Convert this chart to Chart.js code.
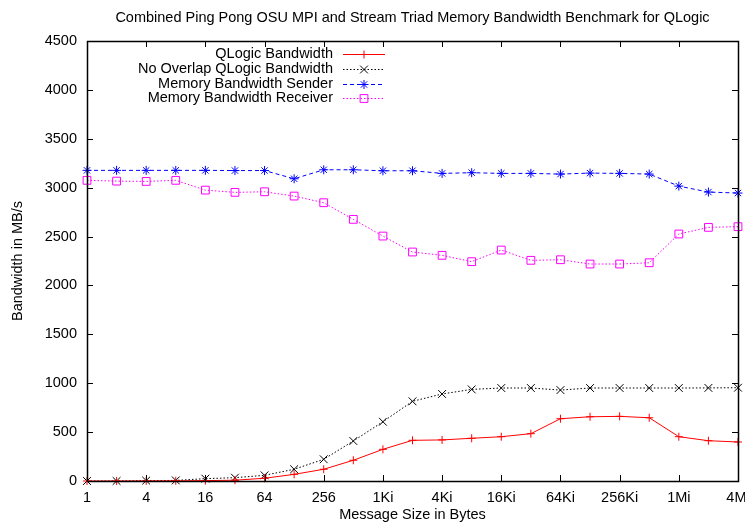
<!DOCTYPE html>
<html>
<head>
<meta charset="utf-8">
<script src="https://cdn.jsdelivr.net/npm/chart.js@4/dist/chart.umd.min.js"></script>
<style>
  html, body { margin: 0; padding: 0; background: #fff; }
  #wrap { width: 745px; height: 524px; }
</style>
</head>
<body>
<div id="wrap"><canvas id="chart"></canvas></div>
<script>
// message sizes in bytes (x axis, log2 spaced)
var sizes = [1, 2, 4, 8, 16, 32, 64, 128, 256, 512, 1024, 2048, 4096, 8192, 16384,
             32768, 65536, 131072, 262144, 524288, 1048576, 2097152, 4194304];

// tick positions and their labels
var xTickValues = [1, 4, 16, 64, 256, 1024, 4096, 16384, 65536, 262144, 1048576, 4194304];
var xTickLabels = ['1', '4', '16', '64', '256', '1Ki', '4Ki', '16Ki', '64Ki', '256Ki', '1Mi', '4Mi'];

// bandwidth in MB/s
var qlogicBw    = [0, 0, 1, 2, 4, 8, 28, 68, 120, 212, 324, 416, 420, 437, 453, 484, 637, 657, 661, 647, 453, 412, 399];
var noOverlapBw = [0, 0, 4, 6, 24, 34, 58, 120, 222, 409, 606, 815, 890, 937, 951, 951, 930, 951, 951, 951, 951, 952, 954];
var senderBw    = [3177, 3177, 3177, 3177, 3177, 3175, 3175, 3091, 3183, 3183, 3173, 3173, 3146, 3153, 3146, 3146,
                   3139, 3149, 3146, 3139, 3016, 2955, 2945];
var receiverBw  = [3075, 3067, 3064, 3075, 2975, 2952, 2958, 2914, 2846, 2676, 2505, 2342, 2308, 2243, 2362, 2257,
                   2263, 2219, 2219, 2232, 2526, 2594, 2601];

var chartTitle = 'Combined Ping Pong OSU MPI and Stream Triad Memory Bandwidth Benchmark for QLogic';

var FONT = '"Liberation Sans", Arial, sans-serif';
var FSIZE = 14.5;

function points(values) {
    var out = [];
    for (var i = 0; i < sizes.length; i++) out.push({ x: sizes[i], y: values[i] });
    return out;
}

// border box + inward ticks on all four sides (gnuplot look)
var frame = {
    id: 'frame',
    afterDatasetsDraw: function(chart) {
        var ctx = chart.ctx, a = chart.chartArea;
        var xs = chart.scales.x, ys = chart.scales.y;
        var t = 6;
        ctx.save();
        ctx.strokeStyle = '#000';
        ctx.lineWidth = 1;
        ctx.beginPath();
        xs.ticks.forEach(function(tk) {
            var px = Math.round(xs.getPixelForValue(tk.value)) + 0.5;
            ctx.moveTo(px, a.bottom); ctx.lineTo(px, a.bottom - t);
            ctx.moveTo(px, a.top); ctx.lineTo(px, a.top + t);
        });
        ys.ticks.forEach(function(tk) {
            var py = Math.round(ys.getPixelForValue(tk.value)) + 0.5;
            ctx.moveTo(a.left, py); ctx.lineTo(a.left + t, py);
            ctx.moveTo(a.right, py); ctx.lineTo(a.right - t, py);
        });
        ctx.stroke();
        ctx.lineWidth = 1.5;
        ctx.strokeRect(Math.round(a.left) + 0.5, Math.round(a.top) + 0.5,
                       Math.round(a.right - a.left), Math.round(a.bottom - a.top));
        ctx.restore();
    }
};

// legend inside plot, text right aligned, sample to the right
var keyBox = {
    id: 'keyBox',
    afterDraw: function(chart) {
        var ctx = chart.ctx;
        var textRight = 333, lineL = 343, lineR = 385, y0 = 54, dy = 14.8;
        ctx.save();
        ctx.font = FSIZE + 'px ' + FONT;
        ctx.textAlign = 'right';
        ctx.textBaseline = 'middle';
        chart.data.datasets.forEach(function(ds, i) {
            var y = y0 + i * dy;
            var py = Math.round(y) + 0.5;
            ctx.fillStyle = '#000';
            ctx.fillText(ds.label, textRight, y);
            ctx.strokeStyle = ds.borderColor;
            ctx.lineWidth = ds.borderWidth;
            ctx.setLineDash(ds.borderDash || []);
            ctx.beginPath();
            ctx.moveTo(lineL, py);
            ctx.lineTo(lineR, py);
            ctx.stroke();
            ctx.setLineDash([]);
            ctx.fillStyle = 'rgba(0,0,0,0)';
            Chart.helpers.drawPoint(ctx, {
                pointStyle: ds.pointStyle,
                radius: ds.pointRadius,
                rotation: 0,
                borderWidth: 1
            }, (lineL + lineR) / 2, py);
        });
        ctx.restore();
    }
};

var chart = new Chart(document.getElementById('chart'), {
    type: 'line',
    data: {
        datasets: [{
            label: 'QLogic Bandwidth',
            data: points(qlogicBw),
            borderColor: '#ff0000',
            pointBorderColor: '#ff0000',
            borderWidth: 1,
            pointStyle: 'cross',
            pointRadius: 4
        }, {
            label: 'No Overlap QLogic Bandwidth',
            data: points(noOverlapBw),
            borderColor: '#000000',
            pointBorderColor: '#000000',
            borderWidth: 1,
            borderDash: [1.5, 2],
            pointStyle: 'crossRot',
            pointRadius: 5.5
        }, {
            label: 'Memory Bandwidth Sender',
            data: points(senderBw),
            borderColor: '#0000ff',
            pointBorderColor: '#0000ff',
            borderWidth: 1,
            borderDash: [4, 3],
            pointStyle: 'star',
            pointRadius: 4.5
        }, {
            label: 'Memory Bandwidth Receiver',
            data: points(receiverBw),
            borderColor: '#ff00ff',
            pointBorderColor: '#ff00ff',
            borderWidth: 1,
            borderDash: [1.5, 2],
            pointStyle: 'rect',
            pointRadius: 5.5
        }]
    },
    options: {
        responsive: true,
        maintainAspectRatio: false,
        animation: false,
        clip: false,
        layout: { padding: { left: 0, right: 7, top: 0, bottom: 0 } },
        elements: {
            line: { tension: 0, fill: false },
            point: { backgroundColor: 'transparent', borderWidth: 1, hoverRadius: 4 }
        },
        plugins: {
            legend: { display: false },
            tooltip: { enabled: false },
            title: { display: false }
        },
        scales: {
            x: {
                type: 'logarithmic',
                min: 1,
                max: 4194304,
                grid: { display: false },
                border: { display: false },
                afterBuildTicks: function(scale) {
                    scale.ticks = xTickValues.map(function(v) { return { value: v }; });
                },
                afterFit: function(scale) {
                    scale.height = 43;
                    scale.paddingRight = 0;
                    scale.paddingLeft = 0;
                },
                ticks: {
                    color: '#000',
                    font: { family: FONT, size: FSIZE },
                    padding: 0,
                    maxRotation: 0,
                    autoSkip: false,
                    callback: function(value) {
                        var i = xTickValues.indexOf(value);
                        return i >= 0 ? xTickLabels[i] : '';
                    }
                },
                title: {
                    display: true,
                    text: 'Message Size in Bytes',
                    color: '#000',
                    font: { family: FONT, size: FSIZE },
                    padding: { top: 0, bottom: 0 }
                }
            },
            // top axis only carries the chart title, centred over the plot
            xTop: {
                type: 'logarithmic',
                position: 'top',
                min: 1,
                max: 4194304,
                grid: { display: false },
                border: { display: false },
                ticks: { display: false },
                afterFit: function(scale) {
                    scale.height = 41;
                    scale.paddingRight = 0;
                    scale.paddingLeft = 0;
                },
                title: {
                    display: true,
                    text: chartTitle,
                    color: '#000',
                    font: { family: FONT, size: FSIZE },
                    padding: { top: 9.3, bottom: 0 }
                }
            },
            y: {
                min: 0,
                max: 4500,
                grid: { display: false },
                border: { display: false },
                afterFit: function(scale) { scale.width = 87; },
                ticks: {
                    stepSize: 500,
                    color: '#000',
                    font: { family: FONT, size: FSIZE },
                    padding: 2,
                    callback: function(value) { return String(value); }
                },
                title: {
                    display: true,
                    text: 'Bandwidth in MB/s',
                    color: '#000',
                    font: { family: FONT, size: FSIZE },
                    padding: { top: 9.3, bottom: 0 }
                }
            }
        }
    },
    plugins: [frame, keyBox]
});
</script>
</body>
</html>
